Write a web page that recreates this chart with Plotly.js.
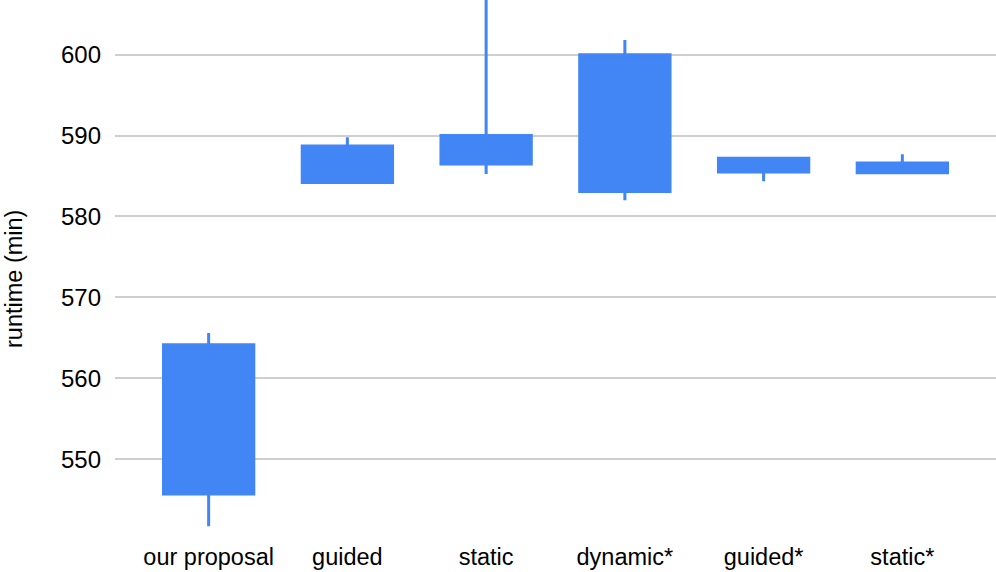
<!DOCTYPE html>
<html>
<head>
<meta charset="utf-8">
<script src="https://cdn.plot.ly/plotly-3.0.1.min.js"></script>
<style>html,body{margin:0;padding:0;background:#fff;}#chart{width:996px;height:572px;}</style>
</head>
<body>
<div id="chart"></div>
<script>
const categories = ["our proposal", "guided", "static", "dynamic*", "guided*", "static*"];
const boxLow  = [545.7, 584.2, 586.5, 583.1, 585.5, 585.4];
const boxHigh = [564.15, 588.7, 590.0, 600.0, 587.2, 586.6];
const whiskerLow  = [541.7, 584.2, 585.25, 582.0, 584.35, 585.4];
const whiskerHigh = [565.6, 589.8, 612.0, 601.8, 587.2, 587.7];
const yTicks = [550, 560, 570, 580, 590, 600];

const blue = "#4285f4";
const trace = {
  type: "candlestick",
  x: categories,
  open: boxLow,
  close: boxHigh,
  low: whiskerLow,
  high: whiskerHigh,
  increasing: {line: {color: blue, width: 3}, fillcolor: blue},
  decreasing: {line: {color: blue, width: 3}, fillcolor: blue},
  whiskerwidth: 0,
  showlegend: false,
  hoverinfo: "none"
};

const layout = {
  width: 996, height: 572,
  margin: {l: 115, r: 0, t: 0, b: 32},
  paper_bgcolor: "#ffffff",
  plot_bgcolor: "#ffffff",
  font: {family: "Liberation Sans, Arial, sans-serif", color: "#000000", size: 23.5},
  showlegend: false,
  boxgap: 0.349,
  boxgroupgap: 0,
  xaxis: {
    type: "category",
    range: [-0.675, 5.675],
    showgrid: false, zeroline: false, showline: false, ticks: "",
    rangeslider: {visible: false},
    tickfont: {size: 23.5},
    ticklabelstandoff: 0,
    fixedrange: true
  },
  yaxis: {
    range: [540, 606.76],
    tickvals: yTicks,
    ticktext: yTicks.map(String),
    showgrid: true, gridcolor: "#cfcfcf", gridwidth: 2,
    zeroline: false, showline: false, ticks: "",
    tickfont: {size: 24},
    ticklabelstandoff: 13,
    fixedrange: true
  },
  annotations: [{
    text: "runtime (min)",
    xref: "paper", yref: "paper",
    x: (14 - 115) / 881, y: (540 - 279) / 540,
    xanchor: "center", yanchor: "middle",
    textangle: -90, showarrow: false, borderpad: 0,
    font: {size: 23.5, color: "#000000"}
  }]
};

Plotly.newPlot("chart", [trace], layout, {displayModeBar: false, staticPlot: true});
</script>
</body>
</html>
